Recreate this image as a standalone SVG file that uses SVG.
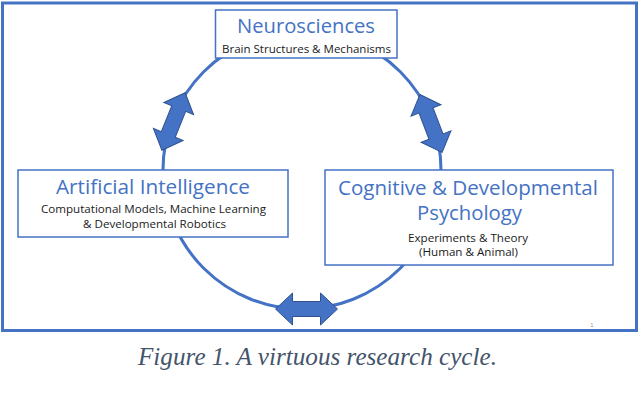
<svg xmlns="http://www.w3.org/2000/svg" width="640" height="401" viewBox="0 0 640 401">
<style>
.box{fill:#ffffff;stroke:#4472C4;stroke-width:1.5}
.title{font-family:"Open Sans","Liberation Sans",sans-serif;font-size:20px;fill:#4472C4;text-anchor:middle}
.sub{font-family:"Open Sans","Liberation Sans",sans-serif;font-size:11.5px;fill:#1a1a1a;text-anchor:middle}
.arrow{fill:#4472C4;stroke:#2F528F;stroke-width:1}
.cycle{fill:none;stroke:#4472C4;stroke-width:3}
.caption{font-family:"Liberation Serif","Times New Roman",serif;font-style:italic;font-size:25px;fill:#44546A;text-anchor:middle}
</style>
<defs>
<path id="dbl" d="M-31,0 L-14,-16 L-14,-7.5 L14,-7.5 L14,-16 L31,0 L14,16 L14,7.5 L-14,7.5 L-14,16 Z"/>
</defs>
<rect x="0" y="0" width="640" height="401" fill="#ffffff"/>
<rect x="2.5" y="3" width="634" height="327.5" fill="none" stroke="#4472C4" stroke-width="3"/>
<g id="connectors">
<circle class="cycle" cx="302" cy="170" r="139"/>
<use href="#dbl" class="arrow" transform="translate(173.5,121.5) rotate(-68)"/>
<use href="#dbl" class="arrow" transform="translate(431,123.5) rotate(69)"/>
<use href="#dbl" class="arrow" transform="translate(306.5,309)"/>
</g>
<g id="neurosciences">
<rect class="box" x="215.5" y="10" width="181.5" height="48"/>
<text class="title" x="306" y="33" textLength="138" lengthAdjust="spacingAndGlyphs">Neurosciences</text>
<text class="sub" x="306.5" y="53" textLength="169" lengthAdjust="spacingAndGlyphs">Brain Structures &amp; Mechanisms</text>
</g>
<g id="artificial-intelligence">
<rect class="box" x="18" y="170" width="270" height="67"/>
<text class="title" x="153" y="194" textLength="194" lengthAdjust="spacingAndGlyphs">Artificial Intelligence</text>
<text class="sub" x="153.5" y="213" textLength="225" lengthAdjust="spacingAndGlyphs">Computational Models, Machine Learning</text>
<text class="sub" x="154.5" y="228" textLength="143" lengthAdjust="spacingAndGlyphs">&amp; Developmental Robotics</text>
</g>
<g id="cognitive-psychology">
<rect class="box" x="325" y="170" width="288" height="95"/>
<text class="title" x="468" y="195" textLength="260" lengthAdjust="spacingAndGlyphs">Cognitive &amp; Developmental</text>
<text class="title" x="469.5" y="220" textLength="105" lengthAdjust="spacingAndGlyphs">Psychology</text>
<text class="sub" x="468" y="242" textLength="120" lengthAdjust="spacingAndGlyphs">Experiments &amp; Theory</text>
<text class="sub" x="468.5" y="256" textLength="99" lengthAdjust="spacingAndGlyphs">(Human &amp; Animal)</text>
</g>
<text x="592" y="327" font-family="'Liberation Sans',sans-serif" font-size="5" fill="#888888" text-anchor="middle">1</text>
<text class="caption" x="317.5" y="365" textLength="359" lengthAdjust="spacingAndGlyphs">Figure 1. A virtuous research cycle.</text>
</svg>
